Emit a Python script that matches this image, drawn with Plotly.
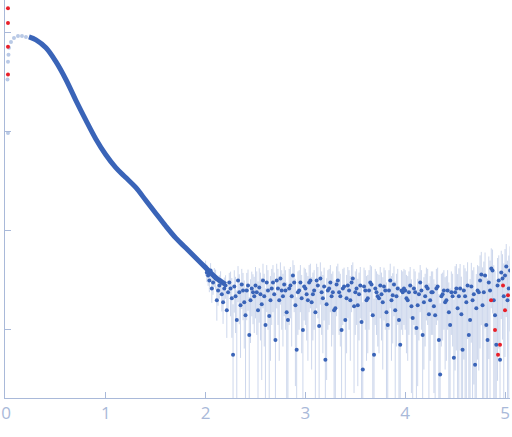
import numpy as np
import plotly.graph_objects as go

# smooth part of the curve (q in 1/nm, log10 intensity)
q_smooth = [0.23, 0.3, 0.4, 0.5, 0.6, 0.7, 0.8, 0.9, 1.0, 1.1, 1.2, 1.3, 1.4,
            1.5, 1.6, 1.7, 1.8, 1.9, 2.0, 2.1, 2.2]
logI_smooth = [-0.04, -0.07, -0.15, -0.29, -0.47, -0.68, -0.88, -1.07, -1.23,
               -1.36, -1.46, -1.56, -1.69, -1.82, -1.95, -2.07, -2.17, -2.27,
               -2.37, -2.47, -2.54]

# noisy tail, two interleaved sets of readings
q_noisy = [round(2.0 + 0.025 * i, 3) for i in range(123)]
logI_noisy = [
    -2.37, -2.45, -2.40, -2.52, -2.48, -2.60, -2.50, -2.72, -2.55, -2.62,
    -2.58, -3.25, -2.66, -2.50, -2.75, -2.60, -2.85, -2.55, -2.70, -2.62,
    -2.55, -2.80, -2.64, -2.50, -2.95, -2.60, -2.70, -2.52, -3.10, -2.58,
    -2.48, -2.66, -2.60, -2.90, -2.55, -2.45, -2.75, -2.62, -2.52, -3.00,
    -2.58, -2.70, -2.50, -2.64, -2.82, -2.55, -2.48, -2.68, -3.30, -2.60,
    -2.52, -2.62, -2.78, -2.50, -2.66, -2.58, -2.90, -2.55, -2.70, -2.48,
    -2.62, -2.75, -2.55, -3.40, -2.60, -2.68, -2.52, -2.85, -2.58, -2.66,
    -2.55, -2.72, -2.60, -2.95, -2.50, -2.65, -2.80, -2.58, -3.15, -2.62,
    -2.60, -2.70, -2.55, -2.88, -2.62, -2.75, -2.52, -3.05, -2.66, -2.58,
    -2.70, -2.62, -2.85, -2.56, -3.45, -2.64, -2.72, -2.60, -2.95, -2.66,
    -2.62, -2.78, -2.58, -3.20, -2.66, -2.55, -2.90, -2.70, -3.35, -2.60,
    -2.50, -2.75, -2.45, -3.10, -2.60, -2.40, -2.85, -2.55, -3.30, -2.48,
    -2.45, -2.70, -2.40]
q_noisy2 = [round(2.0125 + 0.025 * i, 4) for i in range(122)]
logI_noisy2 = [
    -2.42, -2.50, -2.58, -2.46, -2.70, -2.55, -2.64, -2.58, -2.80, -2.52,
    -2.68, -2.56, -2.90, -2.62, -2.54, -2.72, -2.60, -3.05, -2.58, -2.66,
    -2.62, -2.57, -2.74, -2.66, -2.52, -2.86, -2.58, -2.64, -2.50, -2.70,
    -2.60, -2.54, -2.82, -2.58, -2.66, -2.52, -3.20, -2.60, -2.68, -2.56,
    -2.64, -2.52, -2.72, -2.60, -2.50, -2.96, -2.62, -2.56, -2.74, -2.58,
    -2.66, -2.80, -2.54, -2.62, -3.00, -2.56, -2.68, -2.60, -2.52, -2.76,
    -2.58, -2.64, -2.92, -2.56, -2.70, -2.60, -2.54, -3.25, -2.62, -2.68,
    -2.64, -2.56, -2.82, -2.60, -2.70, -2.54, -2.66, -2.90, -2.60, -2.58,
    -2.68, -2.62, -2.76, -2.58, -2.98, -2.64, -2.60, -2.72, -2.56, -2.84,
    -2.62, -2.76, -2.58, -3.10, -2.66, -2.60, -2.70, -2.82, -2.62, -3.28,
    -2.58, -2.66, -2.84, -2.60, -2.72, -3.05, -2.56, -2.64, -2.78, -2.62,
    -2.44, -2.62, -2.95, -2.52, -2.38, -2.70, -3.15, -2.50, -2.42, -2.66,
    -2.36, -2.58]
# relative error per group of 10 points
err_frac_groups = [0.3, 0.5, 0.6, 0.6, 0.6, 0.6, 0.6, 0.6, 0.6, 0.6, 0.8, 1.0, 1.2]

# excluded low-q points (light)
q_low = [0.015, 0.02, 0.02, 0.025, 0.03, 0.05, 0.08, 0.12, 0.16, 0.2]
logI_low = [-0.47, -0.29, -1.01, -0.22, -0.15, -0.09, -0.05, -0.03, -0.03, -0.04]

# outliers (red)
q_red = [0.02, 0.02, 0.02, 0.02, 4.86, 4.9, 4.93, 4.95, 4.98, 5.0, 5.03]
logI_red = [0.25, 0.10, -0.14, -0.42, -2.70, -3.0, -3.25, -3.15, -2.55, -2.80, -2.65]

q_all = q_noisy + q_noisy2
I_all = 10 ** np.array(logI_noisy + logI_noisy2)
frac = np.concatenate([np.repeat(err_frac_groups, 10)[:len(q_noisy)],
                       np.repeat(err_frac_groups, 10)[:len(q_noisy2)]])
err = frac * 10 ** -2.6
err_minus = np.minimum(err, 0.95 * I_all)

blue = '#3a64b8'
axis_col = '#a9b9d9'

fig = go.Figure()
fig.add_trace(go.Scatter(x=q_low, y=10 ** np.array(logI_low), mode='markers',
                         marker=dict(color='#b9c9e6', size=4), showlegend=False))
fig.add_trace(go.Scatter(x=q_smooth, y=10 ** np.array(logI_smooth), mode='lines',
                         line=dict(color=blue, width=5, shape='spline'), showlegend=False))
fig.add_trace(go.Scatter(x=q_all, y=I_all, mode='markers',
                         marker=dict(color=blue, size=4),
                         error_y=dict(type='data', array=err, arrayminus=err_minus,
                                      color='rgba(58,100,184,0.25)', thickness=1, width=0),
                         showlegend=False))
fig.add_trace(go.Scatter(x=q_red, y=10 ** np.array(logI_red), mode='markers',
                         marker=dict(color='#e8202a', size=4), showlegend=False))

fig.update_layout(
    width=512, height=437,
    margin=dict(l=5, r=2, t=0, b=39),
    plot_bgcolor='white', paper_bgcolor='white',
    font=dict(family='Open Sans', size=17, color=axis_col),
    xaxis=dict(range=[-0.01, 5.05], showgrid=False, zeroline=False, automargin=False,
               showline=True, linecolor=axis_col, ticks='inside', ticklen=6,
               tickcolor=axis_col, tickvals=[0, 1, 2, 3, 4, 5]),
    yaxis=dict(type='log', range=[-3.687, 0.333], showgrid=False, zeroline=False,
               automargin=False,
               showline=True, linecolor=axis_col, ticks='inside', ticklen=6,
               tickcolor=axis_col, tickvals=[1, 0.1, 0.01, 0.001],
               showticklabels=False),
)

fig.write_html("out.html", config={'displayModeBar': False},
               post_script="document.body.style.margin='0';")
